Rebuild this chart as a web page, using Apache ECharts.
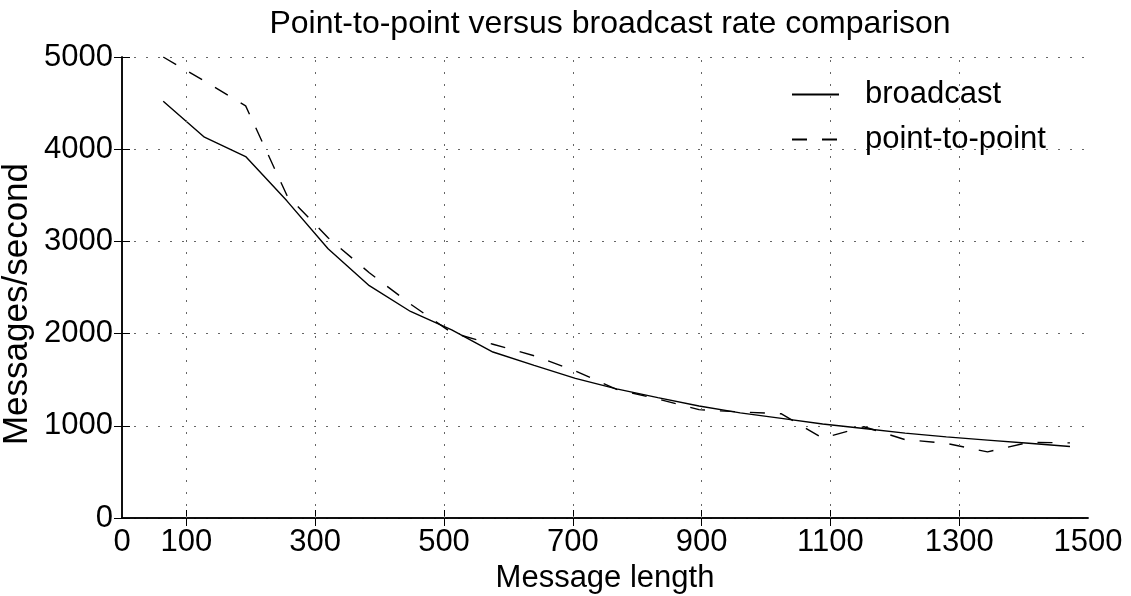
<!DOCTYPE html>
<html><head><meta charset="utf-8">
<script src="https://cdn.jsdelivr.net/npm/echarts@6/dist/echarts.min.js"></script>
<style>html,body{margin:0;padding:0;background:#fff}#c{width:1131px;height:596px}</style>
</head><body><div id="c"></div>
<script>
const messageLength = [64,128,192,256,320,384,448,512,576,640,704,768,832,896,960,1024,1088,1152,1216,1280,1344,1408,1472];
const broadcast = [4520,4130,3920,3440,2920,2520,2240,2040,1800,1655,1515,1400,1305,1215,1140,1080,1020,970,920,880,845,810,775];
const pointToPoint = [5000,4740,4470,3500,3040,2660,2320,2010,1885,1760,1595,1395,1290,1175,1150,1130,865,990,850,810,717,820,815];
const xTickLabels = [0,100,300,500,700,900,1100,1300,1500];
const xGridValues = [100,300,500,700,900,1100,1300];

const FONT = '"Liberation Sans", Arial, Helvetica, sans-serif';
const chart = echarts.init(document.getElementById('c'), null, {renderer:'canvas'});
const pair = (xs, ys) => xs.map((x,i)=>[x, ys[i]]);
const txt = (size) => ({fontFamily:FONT, fontSize:size, color:'#000', fontWeight:'normal'});
const axisLine = {show:true, lineStyle:{color:'#000', width:1.5}};
const gridDots = {type:[2,10], color:'#666', width:1};
const plain = v => String(v);

chart.setOption({
  animation:false,
  backgroundColor:'#fff',
  title:{text:'Point-to-point versus broadcast rate comparison', left:605, top:3, textAlign:'center', textStyle:txt(32)},
  legend:{orient:'vertical', left:786, top:74, itemWidth:47, itemHeight:14, itemGap:14,
    itemStyle:{opacity:0},
    textStyle:Object.assign(txt(31), {padding:[0,0,0,21]}),
    data:['broadcast','point-to-point']},
  grid:{left:122, right:43, top:57, bottom:78, containLabel:false, outerBoundsMode:'none'},
  xAxis:[
    {type:'value', min:0, max:1500, interval:100, position:'bottom',
     name:'Message length', nameLocation:'middle', nameGap:40, nameTextStyle:txt(31),
     axisLine:axisLine,
     axisTick:{show:true, inside:true, length:8, customValues:xGridValues, lineStyle:{color:'#000', width:1}},
     axisLabel:{customValues:xTickLabels, margin:9, formatter:plain, ...txt(31)},
     splitLine:{show:false}},
    {type:'value', min:0, max:1500, interval:100, position:'top',
     axisLine:axisLine,
     axisTick:{show:true, inside:true, length:8, customValues:xGridValues, lineStyle:{color:'#000', width:1}},
     axisLabel:{show:false}, splitLine:{show:false}}
  ],
  yAxis:[
    {type:'value', min:0, max:5000, interval:1000, position:'left',
     name:'Messages/second', nameLocation:'middle', nameGap:87, nameMoveOverlap:false,
     nameTextStyle:Object.assign(txt(35), {padding:[0,33,0,0]}),
     axisLine:axisLine,
     axisTick:{show:true, inside:true, length:8, lineStyle:{color:'#000', width:1}},
     axisLabel:{margin:9, formatter:plain, ...txt(31)},
     splitLine:{show:true, lineStyle:gridDots}},
    {type:'value', min:0, max:5000, interval:1000, position:'right',
     axisLine:axisLine,
     axisTick:{show:true, inside:true, length:8, lineStyle:{color:'#000', width:1}},
     axisLabel:{show:false}, splitLine:{show:false}}
  ],
  series:[
    {name:'broadcast', type:'line', data:pair(messageLength, broadcast), symbol:'none',
     lineStyle:{color:'#000', width:1.4}, itemStyle:{color:'#000'}, z:3,
     markLine:{silent:true, symbol:'none', label:{show:false}, emphasis:{disabled:true},
       lineStyle:gridDots, data:xGridValues.map(v=>({xAxis:v}))}},
    {name:'point-to-point', type:'line', data:pair(messageLength, pointToPoint), symbol:'none',
     lineStyle:{color:'#000', width:1.4, type:[15,15]}, itemStyle:{color:'#000'}, z:3}
  ]
});
</script>
</body></html>
